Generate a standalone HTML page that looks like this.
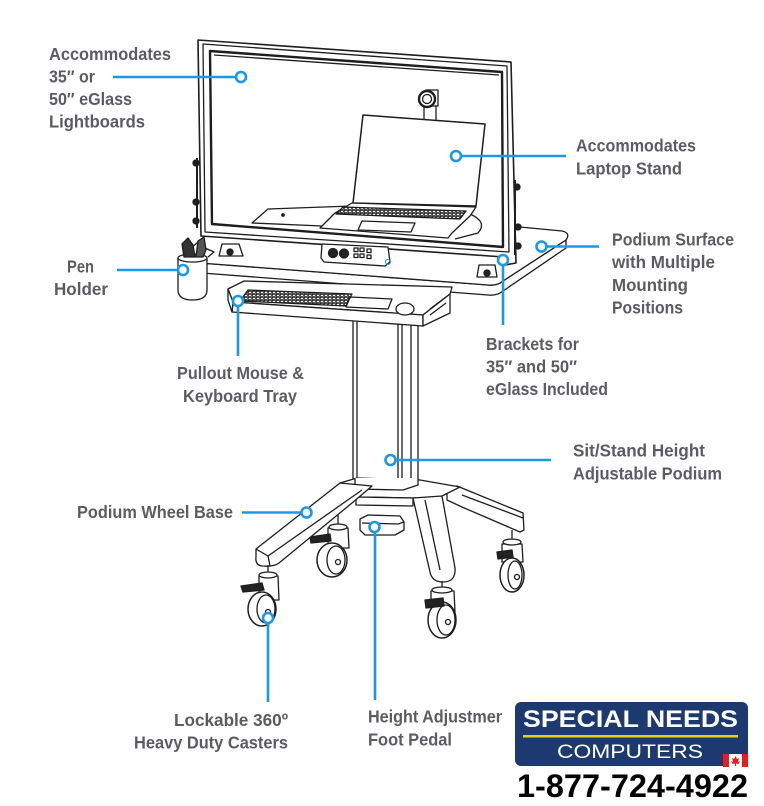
<!DOCTYPE html>
<html><head><meta charset="utf-8"><style>
html,body{margin:0;padding:0;background:#fff;}
svg{display:block;}
.t{font-family:"Liberation Sans",Arial,sans-serif;font-weight:bold;font-size:17.5px;fill:#5b5c63;}
</style></head><body>
<svg xmlns="http://www.w3.org/2000/svg" width="764" height="806" viewBox="0 0 764 806">
<defs>
<pattern id="k" width="4" height="3" patternUnits="userSpaceOnUse"><rect width="4" height="3" fill="#fff"/><rect x="0.4" y="0.4" width="3" height="2" fill="none" stroke="#222" stroke-width="0.8"/></pattern>
</defs>
<rect width="764" height="806" fill="#fff"/>
<g fill="none" stroke="#1e1e1e" stroke-width="1.3" stroke-linejoin="round">
<!-- column -->
<rect x="353" y="285" width="65" height="204" fill="#fff"/>
<line x1="357" y1="285" x2="357" y2="489"/>
<line x1="398" y1="285" x2="398" y2="489"/>
<line x1="402" y1="285" x2="402" y2="489"/>
<line x1="411" y1="285" x2="411" y2="486"/>
<!-- desk -->
<path d="M190,249 Q189,260 200,263 L488,285 Q497,286 503,281 L566,240 L566,248 L503,291 Q497,296 488,295 L202,273 Q190,270 190,258 Z" fill="#fff"/>
<path d="M190,249 L205,236 L520,227 L562,231 Q571,233 566,240 L503,281 Q497,286 488,285 L200,263 Q189,260 190,249 Z" fill="#fff"/>
<!-- frame -->
<path d="M198,40 L511,62 L516,263 L505,265 L504,257 L201,236 Z" fill="#fff" stroke-width="1.6"/>
<path d="M203,44 L507,66 L509,252 L205,232 Z"/>
<path d="M210,51 L502,72 L503,247 L212,224 Z" stroke-width="2.4"/>
<line x1="214" y1="55" x2="499" y2="75"/>
<circle cx="196" cy="163" r="3" fill="#222"/>
<circle cx="196" cy="202" r="3" fill="#222"/>
<circle cx="196" cy="221" r="3" fill="#222"/>
<line x1="197" y1="158" x2="197" y2="228" stroke-width="2"/>
<circle cx="517" cy="187" r="3" fill="#222"/>
<circle cx="518" cy="227" r="3" fill="#222"/>
<circle cx="518" cy="246" r="3" fill="#222"/>
<line x1="515" y1="180" x2="515" y2="255" stroke-width="2"/>
<!-- camera -->
<rect x="424" y="105" width="12" height="16" fill="#fff"/>
<rect x="426" y="90" width="12" height="16" fill="#fff"/>
<circle cx="427" cy="99" r="8" fill="#fff" stroke-width="2.4"/>
<circle cx="427" cy="99" r="4.5"/>
<!-- laptop stand plate -->
<path d="M252,223 L268,209 L352,206 L340,215 L322,226 Z" fill="#fff"/>
<circle cx="283" cy="215" r="1.2" fill="#222"/>
<path d="M470,214 Q488,222 478,233 L455,239"/>
<!-- laptop -->
<path d="M363,115 L485,124 L476,206 L353,203 Z" fill="#fff" stroke-width="1.5"/>
<path d="M352,203 L476,207 L470,216 L452,233 L448,238 L320,228 L335,213 Z" fill="#fff"/>
<path d="M343,207 L466,211 L460,219 L336,214 Z" fill="url(#k)"/>
<path d="M362,221 L415,223 L411,232 L358,230 Z"/>
<!-- control box -->
<path d="M322,244 L388,247 L390,262 L385,266 L324,262 L321,258 Z" fill="#fff"/>
<circle cx="333" cy="253" r="4.5" fill="#222"/>
<circle cx="344" cy="253.5" r="4.5" fill="#222"/>
<rect x="354" y="248" width="4" height="3.5"/><rect x="360" y="248" width="4" height="3.5"/>
<rect x="354" y="254" width="4" height="3.5"/><rect x="360" y="254" width="4" height="3.5"/>
<rect x="367" y="249" width="4" height="3.5"/><rect x="367" y="255" width="4" height="3.5"/>
<circle cx="388" cy="262" r="2.5" stroke="#1b98e8" stroke-width="1"/>
<!-- brackets -->
<path d="M219,256 L222,244 L239,244 L243,256 Z" fill="#fff"/>
<circle cx="230" cy="252" r="3" fill="#222"/>
<path d="M477,277 L479,265 L495,265 L497,277 Z" fill="#fff"/>
<circle cx="487" cy="273" r="3" fill="#222"/>
<!-- pen holder -->
<path d="M205,248 L214,252 L208,257" />
<path d="M178,258 L178,290 Q178,300 192.5,300 Q207,300 207,290 L207,258" fill="#fff"/>
<ellipse cx="192.5" cy="258" rx="14.5" ry="4" fill="#fff"/>
<path d="M184,257 L182,244 L188,238 L193,245 L195,257 Z" fill="#333"/>
<path d="M196,257 L198,241 L204,237 L206,250 L203,257 Z" fill="#555"/>
<!-- tray -->
<path d="M228,289 L244,281 L452,287 L450,294 L423,315 L233,302 Z" fill="#fff"/>
<path d="M233,302 L423,315 L423,326 L232,312 Z" fill="#fff"/>
<path d="M228,289 L233,302 L232,312 L228,300 Z" fill="#fff"/>
<path d="M423,315 L450,294 L450,313 L423,326 Z" fill="#fff"/>
<path d="M248,290 L352,294 L346,306 L240,301 Z" fill="url(#k)"/>
<path d="M350,297 L392,299 L388,309 L346,307 Z"/>
<ellipse cx="405" cy="309" rx="9" ry="6" fill="#fff"/>
<line x1="430" y1="309" x2="446" y2="297"/><line x1="430" y1="315" x2="446" y2="303"/>
<!-- base back-right leg -->
<path d="M447,488 L457,486 L523,513 L524,530 L520,532 L462,507 L447,500 Z" fill="#fff"/>
<line x1="462" y1="495" x2="523" y2="518"/>
<!-- back casters -->
<g fill="#fff">
<line x1="338" y1="515" x2="338" y2="525"/>
<path d="M328,528 L348,528 L349,548 L328,548 Z"/>
<ellipse cx="338" cy="527" rx="9" ry="3"/>
<ellipse cx="332" cy="560" rx="15" ry="17" stroke-width="1.5"/>
<ellipse cx="336" cy="560" rx="9" ry="14"/>
<circle cx="338" cy="562" r="2.5"/>
<path d="M310,537 L330,534 L331,541 L311,543 Z" fill="#222"/>
<line x1="512" y1="530" x2="512" y2="540"/>
<path d="M502,544 L522,544 L523,562 L502,562 Z"/>
<ellipse cx="512" cy="542" rx="9" ry="3"/>
<ellipse cx="512" cy="575" rx="12" ry="17" stroke-width="1.5"/>
<ellipse cx="515" cy="575" rx="7" ry="14"/>
<circle cx="517" cy="577" r="2.5"/>
<path d="M497,552 L512,550 L513,557 L498,559 Z" fill="#222"/>
</g>
<!-- hub -->
<path d="M340,483 L357,478 L420,480 L460,487 L440,497 L413,498 L356,497 Z" fill="#fff"/>
<path d="M356,497 L413,498 L413,506 L356,505 Z" fill="#fff"/>
<rect x="355" y="478" width="63" height="10" fill="#fff" stroke="none"/>
<path d="M355,478 L355,489 L403,490 L418,485 L418,478" />
<!-- pedal -->
<path d="M360,519 L368,515 L400,516 L404,522 L404,530 L395,535 L365,535 L360,530 Z" fill="#fff"/>
<path d="M362,523 L398,524 L404,522"/>
<!-- left-front leg -->
<path d="M340,483 L372,486 L352,503 L279,563 Q274,567 262,566 Q255,565 256,557 L256,549 Z" fill="#fff"/>
<path d="M256,549 L268,556 L362,490"/>
<line x1="268" y1="556" x2="270" y2="566"/>
<!-- right-front leg -->
<path d="M413,498 L442,496 L455,568 Q456,582 443,582 Q432,582 430,572 Z" fill="#fff"/>
<line x1="425" y1="500" x2="440" y2="570"/>
<!-- front casters -->
<g fill="#fff">
<line x1="268" y1="565" x2="268" y2="573"/>
<path d="M259,576 L278,576 L279,600 L259,600 Z"/>
<ellipse cx="268" cy="575" rx="9" ry="3"/>
<ellipse cx="262" cy="609" rx="14" ry="17" stroke-width="1.5"/>
<ellipse cx="266" cy="609" rx="9" ry="14"/>
<circle cx="268" cy="612" r="2.5"/>
<path d="M241,586 L262,583 L264,590 L243,592 Z" fill="#222"/>
<line x1="442" y1="581" x2="442" y2="589"/>
<path d="M431,591 L454,591 L455,612 L431,612 Z"/>
<ellipse cx="442" cy="590" rx="10" ry="3"/>
<ellipse cx="442" cy="620" rx="14" ry="18" stroke-width="1.5"/>
<ellipse cx="446" cy="620" rx="9" ry="15"/>
<circle cx="448" cy="622" r="2.5"/>
<path d="M425,600 L443,598 L444,606 L426,608 Z" fill="#222"/>
</g>
</g>
<!-- connectors -->
<g stroke="#1b98e8" stroke-width="2.6" fill="#fff">
<line x1="113" y1="77" x2="236" y2="77"/><circle cx="241" cy="77" r="5"/>
<line x1="461" y1="156" x2="566" y2="156"/><circle cx="456" cy="156" r="5"/>
<line x1="546" y1="246.5" x2="599" y2="246.5"/><circle cx="541.5" cy="246.5" r="5"/>
<line x1="503" y1="265" x2="503" y2="325"/><circle cx="503" cy="260" r="5"/>
<line x1="117" y1="270" x2="178" y2="270"/><circle cx="183" cy="270" r="5"/>
<line x1="238" y1="306" x2="238" y2="356"/><circle cx="238" cy="301" r="5"/>
<line x1="395" y1="460" x2="551" y2="460"/><circle cx="390.5" cy="460" r="5"/>
<line x1="242" y1="512.5" x2="302" y2="512.5"/><circle cx="306.5" cy="512.5" r="5"/>
<line x1="268" y1="623" x2="268" y2="702"/><circle cx="268" cy="618" r="5"/>
<line x1="375" y1="532" x2="375" y2="700"/><circle cx="374.5" cy="527" r="5"/>
</g>
<!-- labels -->
<g class="t">
<text x="49" y="60" textLength="122" lengthAdjust="spacingAndGlyphs" class="t">Accommodates</text>
<text x="49" y="82.5" textLength="46" lengthAdjust="spacingAndGlyphs" class="t">35″ or</text>
<text x="49" y="105" textLength="83" lengthAdjust="spacingAndGlyphs" class="t">50″ eGlass</text>
<text x="49" y="127.5" textLength="96" lengthAdjust="spacingAndGlyphs" class="t">Lightboards</text>
<text x="576" y="151.5" textLength="120" lengthAdjust="spacingAndGlyphs" class="t">Accommodates</text>
<text x="576" y="174.5" textLength="106" lengthAdjust="spacingAndGlyphs" class="t">Laptop Stand</text>
<text x="612" y="245.5" textLength="122" lengthAdjust="spacingAndGlyphs" class="t">Podium Surface</text>
<text x="612" y="268" textLength="103" lengthAdjust="spacingAndGlyphs" class="t">with Multiple</text>
<text x="612" y="291" textLength="76" lengthAdjust="spacingAndGlyphs" class="t">Mounting</text>
<text x="612" y="313.5" textLength="71" lengthAdjust="spacingAndGlyphs" class="t">Positions</text>
<text x="486" y="350" textLength="93" lengthAdjust="spacingAndGlyphs" class="t">Brackets for</text>
<text x="486" y="372.5" textLength="91" lengthAdjust="spacingAndGlyphs" class="t">35″ and 50″</text>
<text x="486" y="395" textLength="122" lengthAdjust="spacingAndGlyphs" class="t">eGlass Included</text>
<text x="67" y="272.5" textLength="27" lengthAdjust="spacingAndGlyphs" class="t">Pen</text>
<text x="54" y="295" textLength="54" lengthAdjust="spacingAndGlyphs" class="t">Holder</text>
<text x="177" y="379" textLength="127" lengthAdjust="spacingAndGlyphs" class="t">Pullout Mouse &amp;</text>
<text x="183" y="402" textLength="114" lengthAdjust="spacingAndGlyphs" class="t">Keyboard Tray</text>
<text x="573" y="456.5" textLength="132" lengthAdjust="spacingAndGlyphs" class="t">Sit/Stand Height</text>
<text x="573" y="479.5" textLength="149" lengthAdjust="spacingAndGlyphs" class="t">Adjustable Podium</text>
<text x="77" y="518" textLength="156" lengthAdjust="spacingAndGlyphs" class="t">Podium Wheel Base</text>
<text x="174" y="726" textLength="114" lengthAdjust="spacingAndGlyphs" class="t">Lockable 360º</text>
<text x="134" y="748.5" textLength="154" lengthAdjust="spacingAndGlyphs" class="t">Heavy Duty Casters</text>
<text x="368" y="722.5" textLength="143" lengthAdjust="spacingAndGlyphs" class="t">Height Adjustment</text>
<text x="368" y="745.5" textLength="84" lengthAdjust="spacingAndGlyphs" class="t">Foot Pedal</text>
</g>
<!-- logo -->
<rect x="502" y="696" width="262" height="110" fill="#fff"/>
<rect x="515" y="702" width="233" height="64" rx="6" fill="#1d3a70"/>
<text x="523" y="727" textLength="215" lengthAdjust="spacingAndGlyphs" font-family="Liberation Sans, Arial, sans-serif" font-weight="bold" font-size="24" fill="#fff">SPECIAL NEEDS</text>
<rect x="523" y="735" width="215" height="2.5" fill="#e6d21c"/>
<text x="557" y="758" textLength="146" lengthAdjust="spacingAndGlyphs" font-family="Liberation Sans, Arial, sans-serif" font-size="19" fill="#fff">COMPUTERS</text>
<rect x="723" y="754" width="25" height="13" fill="#fff"/>
<rect x="723" y="754" width="6" height="13" fill="#e02020"/>
<rect x="742" y="754" width="6" height="13" fill="#e02020"/>
<path d="M735.5,756 L737,759 L739,758 L738,762 L740,761 L738.5,764 L736,763.5 L736,766 L735,766 L735,763.5 L732.5,764 L731,761 L733,762 L732,758 L734,759 Z" fill="#e02020"/>
<text x="517" y="797" textLength="231" lengthAdjust="spacingAndGlyphs" font-family="Liberation Sans, Arial, sans-serif" font-weight="bold" font-size="32" fill="#000">1-877-724-4922</text>
</svg>
</body></html>
